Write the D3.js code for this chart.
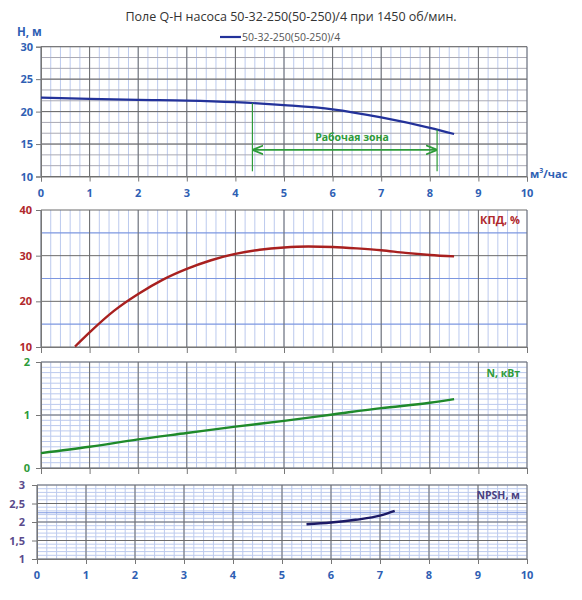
<!DOCTYPE html>
<html>
<head>
<meta charset="utf-8" />
<style>
  body { margin: 0; background: #fff; }
  svg { display: block; font-family: "Open Sans", "Noto Sans", sans-serif; }
  .tick-label { font-size: 11px; font-weight: bold; }
</style>
<script src="https://d3js.org/d3.v7.min.js"></script>
</head>
<body>
<script>

// data
let qTicks = [0, 1, 2, 3, 4, 5, 6, 7, 8, 9, 10];

let hQ = [0, 1, 2, 3, 4, 5, 6, 7, 8, 8.5];
let hVal = [22.15, 21.95, 21.8, 21.7, 21.45, 21.0, 20.35, 19.1, 17.5, 16.55];

let effQ = [0.7, 1, 1.5, 2, 2.5, 3, 3.5, 4, 4.5, 5, 5.5, 6, 6.5, 7, 7.5, 8, 8.5];
let effVal = [10.1, 13.2, 17.9, 21.6, 24.7, 27.1, 29.0, 30.4, 31.3, 31.8, 32.0, 31.9, 31.6, 31.2, 30.6, 30.15, 29.85];

let powQ = [0, 1, 2, 3, 4, 5, 6, 7, 8, 8.5];
let powVal = [0.28, 0.40, 0.54, 0.66, 0.78, 0.89, 1.01, 1.13, 1.23, 1.30];

let npshQ = [5.5, 6, 6.5, 7, 7.3];
let npshVal = [1.94, 1.985, 2.06, 2.17, 2.30];

let zoneQ = [4.35, 8.15];
let zoneTop = [21.3, 17.2];
let zoneBottom = 10.8;
let zoneArrowH = 14.1;

let hTicks = [10, 15, 20, 25, 30];
let effTicks = [10, 20, 30, 40];
let powTicks = [0, 1, 2];
let npshTicks = [1, 1.5, 2, 2.5, 3];
let npshTickText = ["1", "1,5", "2", "2,5", "3"];

let W = 582, H = 600;

let svg = d3.select("body").append("svg")
    .attr("width", W)
    .attr("height", H);

let defs = svg.append("defs");
defs.append("marker")
    .attr("id", "arr")
    .attr("viewBox", "0 0 10 10")
    .attr("refX", 9).attr("refY", 5)
    .attr("markerWidth", 7).attr("markerHeight", 7)
    .attr("orient", "auto-start-reverse")
    .append("path")
    .attr("d", "M0,1 L10,5 L0,9")
    .attr("fill", "none")
    .attr("stroke", "#2e9b3a")
    .attr("stroke-width", 1.6);

let minorCol = "#bccaee",
    blueCol = "#7d97e0",
    majorCol = "#6b6b6b";

// panel builder
function panel(opts) {
    let x = d3.scaleLinear().domain([0, 10]).range(opts.xr);
    let y = d3.scaleLinear().domain(opts.yd).range(opts.yr);
    let g = svg.append("g");

    // vertical minor grid
    let vmin = d3.range(0, 10.001, 0.2);
    g.selectAll("line.vmin").data(vmin).enter().append("line")
        .attr("x1", d => x(d)).attr("x2", d => x(d))
        .attr("y1", y.range()[0]).attr("y2", y.range()[1])
        .attr("stroke", minorCol).attr("stroke-width", 1);

    // horizontal minor grid
    g.selectAll("line.hmin").data(opts.hMinor).enter().append("line")
        .attr("x1", x(0)).attr("x2", x(10))
        .attr("y1", d => y(d)).attr("y2", d => y(d))
        .attr("stroke", opts.hMinorCol || minorCol).attr("stroke-width", 1);

    // blue accent lines
    g.selectAll("line.hblue").data(opts.hBlue || []).enter().append("line")
        .attr("x1", x(0)).attr("x2", x(10))
        .attr("y1", d => y(d)).attr("y2", d => y(d))
        .attr("stroke", blueCol).attr("stroke-width", 1.2);

    // major grid
    g.selectAll("line.vmaj").data(qTicks).enter().append("line")
        .attr("x1", d => x(d)).attr("x2", d => x(d))
        .attr("y1", y.range()[0]).attr("y2", y.range()[1])
        .attr("stroke", majorCol).attr("stroke-width", 1);
    g.selectAll("line.hmaj").data(opts.ticks).enter().append("line")
        .attr("x1", x(0)).attr("x2", x(10))
        .attr("y1", d => y(d)).attr("y2", d => y(d))
        .attr("stroke", majorCol).attr("stroke-width", 1);

    // axes
    let yAxis = d3.axisLeft(y).tickValues(opts.ticks).tickSize(5).tickFormat("");
    g.append("g").attr("transform", "translate(" + x(0) + ",0)").call(yAxis)
        .call(a => a.selectAll("line, path").attr("stroke", "#777"));
    let xAxis = d3.axisBottom(x).tickValues(qTicks).tickSize(opts.xTick || 5).tickFormat("");
    g.append("g").attr("transform", "translate(0," + y.range()[0] + ")").call(xAxis)
        .call(a => a.selectAll("line, path").attr("stroke", "#777"));

    // y tick labels
    g.selectAll("text.yl").data(opts.ticks).enter().append("text")
        .attr("class", "tick-label")
        .attr("x", x(0) - opts.labelGap)
        .attr("y", d => y(d) + 4)
        .attr("text-anchor", "end")
        .attr("fill", opts.labelCol)
        .text((d, i) => opts.tickText ? opts.tickText[i] : d);

    return { x: x, y: y, g: g };
}

let line = (p, xs, ys) => d3.line()
    .x(d => p.x(xs[d]))
    .y(d => p.y(ys[d]))
    .curve(d3.curveMonotoneX)(d3.range(xs.length));

// ---- panel 1: H ----
let p1 = panel({
    xr: [41, 527], yd: [10, 30], yr: [176.5, 46.7],
    ticks: hTicks, hMinor: d3.range(10, 30.01, 5 / 3),
    hMinorCol: "#a9a9b4",
    labelCol: "#2f5fb4", labelGap: 8
});
p1.g.append("path")
    .attr("d", line(p1, hQ, hVal))
    .attr("fill", "none").attr("stroke", "#23329a").attr("stroke-width", 2.2);

// working zone
p1.g.selectAll("line.zone").data(zoneQ).enter().append("line")
    .attr("x1", d => p1.x(d)).attr("x2", d => p1.x(d))
    .attr("y1", (d, i) => p1.y(zoneTop[i])).attr("y2", p1.y(zoneBottom))
    .attr("stroke", "#2e9b3a").attr("stroke-width", 1.2);
p1.g.append("line")
    .attr("x1", p1.x(zoneQ[0]) + 1).attr("x2", p1.x(zoneQ[1]) - 1)
    .attr("y1", p1.y(zoneArrowH)).attr("y2", p1.y(zoneArrowH))
    .attr("stroke", "#2e9b3a").attr("stroke-width", 1.6)
    .attr("marker-start", "url(#arr)").attr("marker-end", "url(#arr)");
p1.g.append("text")
    .attr("x", p1.x(6.4)).attr("y", p1.y(16.1) + 4)
    .attr("text-anchor", "middle")
    .attr("font-size", 10.5).attr("font-weight", "bold")
    .attr("fill", "#2e9b3a")
    .text("Рабочая зона");

// x labels top
p1.g.selectAll("text.xl").data(qTicks).enter().append("text")
    .attr("class", "tick-label")
    .attr("x", d => p1.x(d)).attr("y", 197)
    .attr("text-anchor", "middle").attr("fill", "#2f5fb4")
    .text(d => d);

svg.append("text").attr("x", 17).attr("y", 36)
    .attr("font-size", 11.5).attr("font-weight", "bold").attr("fill", "#2f5fb4")
    .text("H, м");
let unit = svg.append("text").attr("x", 530).attr("y", 178)
    .attr("font-size", 11).attr("font-weight", "bold").attr("fill", "#2f5fb4");
unit.append("tspan").text("м");
unit.append("tspan").attr("dy", -5).attr("font-size", 7).text("3");
unit.append("tspan").attr("dy", 5).text("/час");

// title and legend
svg.append("text").attr("x", 291).attr("y", 21)
    .attr("text-anchor", "middle")
    .attr("font-size", 12.5).attr("fill", "#333")
    .text("Поле Q-Н насоса 50-32-250(50-250)/4 при 1450 об/мин.");
svg.append("line").attr("x1", 220).attr("x2", 241).attr("y1", 37).attr("y2", 37)
    .attr("stroke", "#23329a").attr("stroke-width", 2.2);
svg.append("text").attr("x", 242).attr("y", 41)
    .attr("font-size", 10.5).attr("fill", "#555")
    .text("50-32-250(50-250)/4");

// ---- panel 2: efficiency ----
let p2 = panel({
    xr: [41, 527], yd: [10, 40], yr: [347, 210],
    ticks: effTicks, hMinor: [], hBlue: [15, 25, 35],
    labelCol: "#b0282c", labelGap: 9, xTick: 6
});
p2.g.append("path")
    .attr("d", line(p2, effQ, effVal))
    .attr("fill", "none").attr("stroke", "#a8201f").attr("stroke-width", 2.4);
p2.g.append("text").attr("x", 520).attr("y", 224)
    .attr("text-anchor", "end").attr("font-size", 11).attr("font-weight", "bold")
    .attr("fill", "#b0282c").text("КПД, %");

// ---- panel 3: power ----
let p3 = panel({
    xr: [41, 527], yd: [0, 2], yr: [468, 362],
    ticks: powTicks, hMinor: d3.range(0, 2.001, 0.1),
    labelCol: "#2e9b3a", labelGap: 11, xTick: 6
});
p3.g.append("path")
    .attr("d", line(p3, powQ, powVal))
    .attr("fill", "none").attr("stroke", "#1f8a2a").attr("stroke-width", 2.4);
p3.g.append("text").attr("x", 520).attr("y", 377)
    .attr("text-anchor", "end").attr("font-size", 10.5).attr("font-weight", "bold")
    .attr("fill", "#2e9b3a").text("N, кВт");

// ---- panel 4: NPSH ----
let p4 = panel({
    xr: [37, 527], yd: [1, 3], yr: [559, 485],
    ticks: npshTicks, tickText: npshTickText, hMinor: d3.range(1, 3.001, 0.1),
    hBlue: [2.25],
    labelCol: "#5a4a8c", labelGap: 12, xTick: 0
});
p4.g.append("path")
    .attr("d", line(p4, npshQ, npshVal))
    .attr("fill", "none").attr("stroke", "#1c1a66").attr("stroke-width", 2.4);
p4.g.append("text").attr("x", 520).attr("y", 499)
    .attr("text-anchor", "end").attr("font-size", 10.5).attr("font-weight", "bold")
    .attr("fill", "#4a3f80").text("NPSH, м");
p4.g.selectAll("text.xl").data(qTicks).enter().append("text")
    .attr("class", "tick-label")
    .attr("x", d => p4.x(d)).attr("y", 579)
    .attr("text-anchor", "middle").attr("fill", "#2f5fb4")
    .text(d => d);

</script>
</body>
</html>
